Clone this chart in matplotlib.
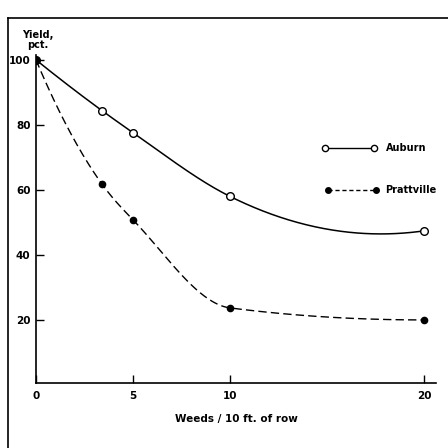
import numpy as np
import matplotlib
matplotlib.use("Agg")
import matplotlib.pyplot as plt
from matplotlib.lines import Line2D

weeds = [0, 3.4, 5, 10, 20]
auburn = [100, 84.4, 77.6, 58.0, 47.4]
prattville = [100, 61.8, 50.8, 23.7, 20.0]
xticks = [0, 5, 10, 20]
yticks = [20, 40, 60, 80, 100]


def hermite_curve(x, y, monotone, n=400):
    x = np.asarray(x, float)
    y = np.asarray(y, float)
    h = np.diff(x)
    s = np.diff(y) / h
    m = len(x)
    d = np.zeros(m)
    for i in range(1, m - 1):
        if monotone:
            if s[i - 1] * s[i] <= 0:
                d[i] = 0
            else:
                w1 = 2 * h[i] + h[i - 1]
                w2 = h[i] + 2 * h[i - 1]
                d[i] = (w1 + w2) / (w1 / s[i - 1] + w2 / s[i])
        else:
            d[i] = (h[i] * s[i - 1] + h[i - 1] * s[i]) / (h[i - 1] + h[i])
    d[0] = ((2 * h[0] + h[1]) * s[0] - h[0] * s[1]) / (h[0] + h[1])
    d[-1] = ((2 * h[-1] + h[-2]) * s[-1] - h[-1] * s[-2]) / (h[-1] + h[-2])
    if monotone:
        if d[0] * s[0] <= 0:
            d[0] = 0
        if d[-1] * s[-1] <= 0:
            d[-1] = 0
    xs = np.linspace(x[0], x[-1], n)
    ys = np.empty_like(xs)
    for k, xv in enumerate(xs):
        i = min(np.searchsorted(x, xv, side="right") - 1, m - 2)
        t = (xv - x[i]) / h[i]
        h00 = 2 * t ** 3 - 3 * t ** 2 + 1
        h10 = t ** 3 - 2 * t ** 2 + t
        h01 = -2 * t ** 3 + 3 * t ** 2
        h11 = t ** 3 - t ** 2
        ys[k] = h00 * y[i] + h10 * h[i] * d[i] + h01 * y[i + 1] + h11 * h[i] * d[i + 1]
    return xs, ys


plt.rcParams['font.family'] = ['DejaVu Sans']
fig = plt.figure(figsize=(4.48, 4.48), dpi=100)
W = H = 448.0
ax = fig.add_axes([36 / W, (H - 383) / H, (436 - 36) / W, (383 - 55) / H])
ax.set_xlim(0, 20.62)
ax.set_ylim(0.6, 101.5)

xs, ys = hermite_curve(weeds, auburn, monotone=False)
ax.plot(xs, ys, color="black", lw=1.1)
ax.plot(weeds, auburn, "o", ms=5.5, mfc="white", mec="black", mew=1.0)

xs, ys = hermite_curve(weeds, prattville, monotone=True)
ax.plot(xs, ys, color="black", lw=1.0, ls=(0, (6, 3)))
ax.plot(weeds, prattville, "o", ms=4.5, mfc="black", mec="black")

for s in ["top", "right"]:
    ax.spines[s].set_visible(False)
for s in ["left", "bottom"]:
    ax.spines[s].set_linewidth(1.2)

ax.set_xticks(xticks)
ax.set_yticks(yticks)
ax.tick_params(axis="both", direction="in", length=6, width=1.0,
               labelsize=7.5, pad=6)
ax.tick_params(axis="y", pad=4)
for lab in ax.get_xticklabels() + ax.get_yticklabels():
    lab.set_fontweight("bold")
ax.set_xlabel("Weeds / 10 ft. of row", fontsize=7.5, fontweight="bold", labelpad=9)
fig.text(38 / W, 1 - 40 / H, "Yield,\npct.", ha="center", va="center",
         fontsize=7, fontweight="bold", linespacing=1.0)

# legend drawn manually in axes-fraction space
ax.add_line(Line2D([0.7225, 0.845], [0.7165, 0.7165], transform=ax.transAxes,
                   color="black", lw=1.0, marker="o", ms=4.5, mfc="white",
                   mec="black", markevery=[0, 1]))
ax.text(0.875, 0.7165, "Auburn", transform=ax.transAxes, va="center",
        fontsize=7, fontweight="bold")
ax.add_line(Line2D([0.73, 0.85], [0.588, 0.588], transform=ax.transAxes,
                   color="black", lw=1.0, ls=(0, (3, 2)), marker="o", ms=4,
                   mfc="black", mec="black", markevery=[0, 1]))
ax.text(0.872, 0.588, "Prattville", transform=ax.transAxes, va="center",
        fontsize=7, fontweight="bold")

# page frame lines from scan
fig.add_artist(Line2D([8 / W, 8 / W], [0, 1 - 18 / H], transform=fig.transFigure,
                      color="black", lw=1.2))
fig.add_artist(Line2D([8 / W, 1], [1 - 18 / H, 1 - 18 / H], transform=fig.transFigure,
                      color="black", lw=1.2))

fig.savefig("out.png", dpi=100)
